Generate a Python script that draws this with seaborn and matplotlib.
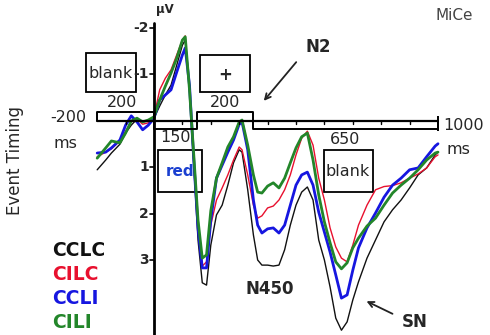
import numpy as np
import pandas as pd
import matplotlib
matplotlib.use("Agg")
import matplotlib.pyplot as plt
import seaborn as sns
from matplotlib.patches import Rectangle

# time points (ms) and grand-average amplitudes (uV)
time_ms = [-200, -170, -150, -120, -100, -80, -60, -40, -20, 0, 20, 40, 60, 80, 100, 110,
           125, 140, 155, 170, 185, 200, 220, 240, 260, 280, 300, 310, 330, 350, 365, 380,
           400, 420, 440, 460, 480, 500, 520, 540, 560, 580, 600, 620, 640, 660, 680, 700,
           720, 750, 780, 810, 840, 870, 900, 930, 960, 990, 1000]

cclc = [1.06, 0.85, 0.70, 0.51, 0.27, 0.10, -0.03, 0.03, 0.01, -0.05, -0.31, -0.55, -0.76, -1.19, -1.62, -1.73,
        -0.66, 0.96, 2.57, 3.49, 3.54, 2.68, 2.03, 1.82, 1.39, 0.91, 0.63, 0.68, 1.49, 2.46, 3.00, 3.11,
        3.11, 3.13, 3.11, 2.78, 2.25, 1.82, 1.54, 1.43, 1.71, 2.57, 3.00, 3.58, 4.25, 4.51, 4.33, 3.86,
        3.47, 2.96, 2.57, 2.18, 1.92, 1.71, 1.45, 1.17, 1.02, 0.74, 0.68]
cilc = [0.78, 0.68, 0.61, 0.44, 0.23, 0.03, -0.03, 0.08, 0.05, -0.08, -0.66, -0.91, -1.09, -1.41, -1.73, -1.82,
        -0.66, 0.85, 2.25, 3.13, 3.04, 2.25, 1.71, 1.45, 1.17, 0.85, 0.57, 0.63, 1.17, 1.82, 2.10, 2.05,
        1.88, 1.84, 1.71, 1.49, 1.17, 0.74, 0.38, 0.23, 0.53, 1.24, 1.71, 2.31, 2.72, 2.96, 3.04, 2.68,
        2.25, 1.82, 1.49, 1.42, 1.40, 1.34, 1.24, 1.15, 1.02, 0.78, 0.74]
ccli = [0.70, 0.68, 0.59, 0.42, 0.10, -0.10, 0.03, 0.20, 0.10, -0.05, -0.44, -0.55, -0.66, -1.04, -1.41, -1.56,
        -0.76, 0.85, 2.31, 3.17, 3.17, 2.14, 1.24, 0.96, 0.68, 0.42, 0.08, 0.03, 0.63, 1.71, 2.25, 2.42,
        2.33, 2.31, 2.42, 2.25, 1.82, 1.39, 1.17, 1.11, 1.39, 1.97, 2.40, 2.83, 3.32, 3.82, 3.75, 3.22,
        2.74, 2.31, 1.99, 1.65, 1.39, 1.24, 1.06, 1.02, 0.78, 0.55, 0.50]
cili = [0.81, 0.59, 0.44, 0.48, 0.27, 0.01, -0.05, 0.03, -0.01, -0.08, -0.44, -0.74, -1.02, -1.34, -1.73, -1.80,
        -0.66, 0.74, 2.14, 2.96, 2.89, 1.94, 1.24, 0.91, 0.57, 0.35, 0.03, -0.01, 0.53, 1.17, 1.54, 1.56,
        1.41, 1.34, 1.45, 1.24, 0.91, 0.59, 0.35, 0.27, 0.85, 1.60, 2.18, 2.63, 3.04, 3.19, 3.06, 2.74,
        2.53, 2.27, 2.10, 1.82, 1.56, 1.39, 1.24, 1.06, 0.85, 0.70, 0.68]

conditions = ["CCLC", "CILC", "CCLI", "CILI"]
colors = {"CCLC": "#111111", "CILC": "#e8102e", "CCLI": "#1616e0", "CILI": "#23862a"}
widths = {"CCLC": 1.0, "CILC": 1.0, "CCLI": 2.0, "CILI": 2.0}
yticks = [-2, -1, 1, 2, 3]

df = pd.concat([pd.DataFrame({"time": time_ms, "uv": v, "cond": c})
                for c, v in zip(conditions, [cclc, cilc, ccli, cili])])

sns.set_style("white")
plt.rcParams["font.family"] = ["DejaVu Sans"]

W, H = 490, 335
fig = plt.figure(figsize=(4.9, 3.35), dpi=100)
ax = fig.add_axes([0, 0, 1, 1])

# pixel -> data mapping
def dx(x):
    return (x - 154) / 0.284

def dy(y):
    return (y - 120.5) / 46.5

ax.set_xlim(dx(0), dx(W))
ax.set_ylim(dy(H), dy(0))
ax.axis("off")

for c in conditions:
    sub = df[df.cond == c]
    sns.lineplot(data=sub, x="time", y="uv", color=colors[c], lw=widths[c], ax=ax, legend=False)

k = dict(color="black", lw=1.4, solid_capstyle="butt")
# axes
ax.plot([0, 0], [dy(23), dy(H)], color="black", lw=2)
ax.plot([-200, 1000], [0, 0], color="black", lw=1.6)
for t in range(-100, 1000, 100):
    ax.plot([t, t], [0, dy(123.5)], color="black", lw=1)
for v in yticks:
    ax.plot([dx(150), 0], [v, v], color="black", lw=1.2)
    ax.text(dx(149), v, str(v), ha="right", va="center", fontsize=10, fontweight="bold")

# timing brackets
up, lo = dy(112), dy(129)
for a, b in [(-200, 0), (150, 350)]:
    ax.plot([a, a, b, b], [0, up, up, 0], **k)
for a, b in [(0, 150), (350, 1000)]:
    ax.plot([a, a, b, b], [0, lo, lo, 0], **k)
ax.plot([1000, 1000], [dy(116), dy(131)], **k)

def T(x, y, s, **kw):
    ax.text(x / W, 1 - y / H, s, transform=ax.transAxes, **kw)

def box(x0, y0, x1, y1):
    ax.add_patch(Rectangle((x0 / W, 1 - y1 / H), (x1 - x0) / W, (y1 - y0) / H,
                           transform=ax.transAxes, fill=False, ec="black", lw=1.3))

fs = 11.5
T(122, 103, "200", ha="center", va="center", fontsize=fs)
T(225, 103, "200", ha="center", va="center", fontsize=fs)
T(176, 138, "150", ha="center", va="center", fontsize=fs)
T(345, 140, "650", ha="center", va="center", fontsize=fs)
T(68, 118, "-200", ha="center", va="center", fontsize=fs)
T(65, 143, "ms", ha="center", va="center", fontsize=fs)
T(443, 125, "1000", ha="left", va="center", fontsize=fs)
T(446, 149, "ms", ha="left", va="center", fontsize=fs)

box(86, 53, 136, 92)
T(111, 73, "blank", ha="center", va="center", fontsize=fs)
box(200, 55, 250, 92)
T(225, 75, "+", ha="center", va="center", fontsize=12, fontweight="bold")
box(158, 150, 202, 192)
T(180, 171, "red", ha="center", va="center", fontsize=11, fontweight="bold", color="#1a3fd0")
box(324, 150, 373, 192)
T(348, 171, "blank", ha="center", va="center", fontsize=fs)

T(165, 10, "µV", ha="center", va="center", fontsize=8.5, fontweight="bold")
T(454, 15, "MiCe", ha="center", va="center", fontsize=11, color="#444444")
T(15, 160, "Event Timing", ha="center", va="center", fontsize=12, rotation=90)

T(318, 47, "N2", ha="center", va="center", fontsize=12, fontweight="bold")
T(270, 289, "N450", ha="center", va="center", fontsize=12, fontweight="bold")
T(415, 322, "SN", ha="center", va="center", fontsize=12, fontweight="bold")
ax.annotate("", xy=(262 / W, 1 - 103 / H), xytext=(298 / W, 1 - 60 / H),
            xycoords="axes fraction", arrowprops=dict(arrowstyle="->", lw=1.3, color="#222222"))
ax.annotate("", xy=(364 / W, 1 - 300 / H), xytext=(395 / W, 1 - 315 / H),
            xycoords="axes fraction", arrowprops=dict(arrowstyle="->", lw=1.3, color="#222222"))

for i, c in enumerate(conditions):
    T(52, 250 + i * 24.3, c, ha="left", va="center", fontsize=13.5, fontweight="bold",
      color=colors[c])

fig.savefig("out.png", dpi=100)
